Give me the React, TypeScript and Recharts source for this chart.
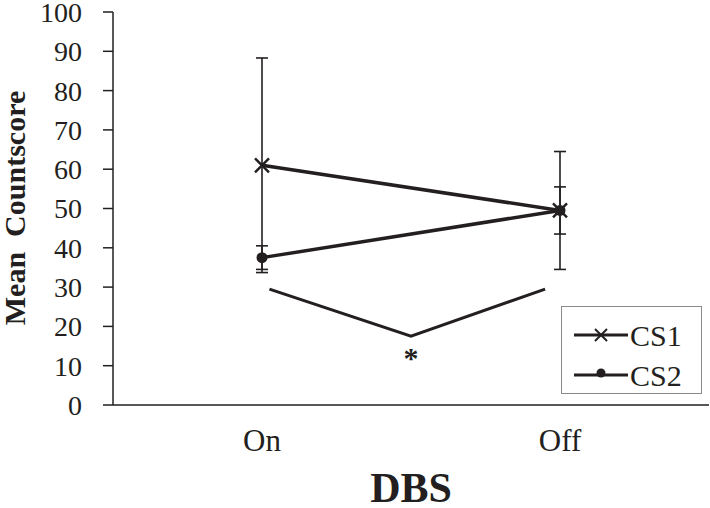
import { LineChart, Line, XAxis, YAxis, ErrorBar, Legend, ReferenceDot } from "recharts";

const conditions = ["On", "Off"];
const conditionPos = [0.5, 1.5];
const cs1 = [61, 49.5];
const cs1Err = [27.3, 15];
const cs2 = [37.5, 49.5];
const cs2Err = [3, 6];
const yTicks = [0, 10, 20, 30, 40, 50, 60, 70, 80, 90, 100];
const bracketX = [0.525, 1.0, 1.45];
const bracketY = [29.5, 17.5, 29.5];

const INK = "#231f20";
const SERIF = "'Liberation Serif', 'Times New Roman', serif";

const data = conditions.map((c, i) => ({
  name: c,
  x: conditionPos[i],
  cs1: cs1[i],
  cs1Err: cs1Err[i],
  cs2: cs2[i],
  cs2Err: cs2Err[i],
}));

const bracket = bracketX.map((x, i) => ({ x, y: bracketY[i] }));

const CrossDot = (props: any) => {
  const { cx, cy } = props;
  if (cx == null || cy == null) return null;
  const s = 7;
  return (
    <g stroke={INK} strokeWidth={2.5}>
      <line x1={cx - s} y1={cy - s} x2={cx + s} y2={cy + s} />
      <line x1={cx - s} y1={cy + s} x2={cx + s} y2={cy - s} />
    </g>
  );
};

const RoundDot = (props: any) => {
  const { cx, cy } = props;
  if (cx == null || cy == null) return null;
  return <circle cx={cx} cy={cy} r={5.5} fill={INK} />;
};

const LegendBox = () => (
  <svg width={141} height={88}>
    <g stroke={INK} strokeWidth={3}>
      <line x1={12} y1={28} x2={66} y2={28} />
      <line x1={12} y1={68} x2={66} y2={68} />
    </g>
    <g stroke={INK} strokeWidth={2}>
      <line x1={33} y1={22} x2={45} y2={34} />
      <line x1={33} y1={34} x2={45} y2={22} />
    </g>
    <circle cx={39} cy={66} r={4.5} fill={INK} />
    <text x={68} y={39} fontFamily={SERIF} fontSize={30} fill={INK}>CS1</text>
    <text x={68} y={79} fontFamily={SERIF} fontSize={30} fill={INK}>CS2</text>
  </svg>
);

export default function App() {
  return (
    <div style={{ position: "absolute", left: 0, top: 0, background: "#fff" }}>
      <LineChart
        width={710}
        height={508}
        data={data}
        margin={{ top: 12, right: 1, bottom: 0, left: 0 }}
      >
        <XAxis
          dataKey="x"
          type="number"
          domain={[0, 2]}
          ticks={[0, 1, 2]}
          tick={false}
          tickSize={8}
          height={10}
          axisLine={{ stroke: INK, strokeWidth: 1.5 }}
          tickLine={{ stroke: INK, strokeWidth: 1.5 }}
        />
        <XAxis
          xAxisId="labels"
          dataKey="x"
          type="number"
          domain={[0, 2]}
          ticks={conditionPos}
          interval={0}
          tickFormatter={(v: number) => conditions[conditionPos.indexOf(v)] ?? ""}
          axisLine={false}
          tickLine={false}
          tickSize={0}
          tickMargin={14}
          height={93}
          tick={{ fill: INK, fontSize: 31, fontFamily: SERIF }}
          label={{
            content: () => (
              <text
                x={411}
                y={502}
                textAnchor="middle"
                fontFamily={SERIF}
                fontWeight="bold"
                fontSize={42}
                fill={INK}
              >
                DBS
              </text>
            ),
          }}
        />
        <YAxis
          type="number"
          domain={[0, 100]}
          ticks={yTicks}
          interval={0}
          width={113}
          tickSize={10}
          tickMargin={21}
          axisLine={{ stroke: INK, strokeWidth: 1.5 }}
          tickLine={{ stroke: INK, strokeWidth: 1.5 }}
          tick={{ fill: INK, fontSize: 28, fontFamily: SERIF }}
          label={{
            content: () => (
              <text
                x={25}
                y={208}
                transform="rotate(-90 25 208)"
                textAnchor="middle"
                fontFamily={SERIF}
                fontWeight="bold"
                fontSize={30}
                fill={INK}
                style={{ whiteSpace: "pre" }}
              >
                {"Mean  Countscore"}
              </text>
            ),
          }}
        />
        <Line
          dataKey="cs1"
          stroke={INK}
          strokeWidth={3.5}
          dot={<CrossDot />}
          activeDot={false}
          isAnimationActive={false}
          legendType="none"
        >
          <ErrorBar dataKey="cs1Err" direction="y" width={6} stroke={INK} strokeWidth={1.6} />
        </Line>
        <Line
          dataKey="cs2"
          stroke={INK}
          strokeWidth={3.5}
          dot={<RoundDot />}
          activeDot={false}
          isAnimationActive={false}
          legendType="none"
        >
          <ErrorBar dataKey="cs2Err" direction="y" width={6} stroke={INK} strokeWidth={1.6} />
        </Line>
        <Line
          data={bracket}
          dataKey="y"
          stroke={INK}
          strokeWidth={3}
          dot={false}
          activeDot={false}
          isAnimationActive={false}
          legendType="none"
        />
        <ReferenceDot
          x={1}
          y={12.5}
          r={0}
          shape={(p: any) => (
            <text
              x={p.cx}
              y={p.cy + 12}
              textAnchor="middle"
              fontFamily={SERIF}
              fontWeight="bold"
              fontSize={30}
              fill={INK}
            >
              *
            </text>
          )}
        />
        <Legend
          layout="horizontal"
          verticalAlign="middle"
          align="center"
          content={() => <LegendBox />}
          wrapperStyle={{
            left: 561,
            top: 306,
            width: 141,
            height: 88,
            border: "1px solid #8a8a8a",
            background: "#fff",
            boxSizing: "border-box",
          }}
        />
      </LineChart>
    </div>
  );
}
